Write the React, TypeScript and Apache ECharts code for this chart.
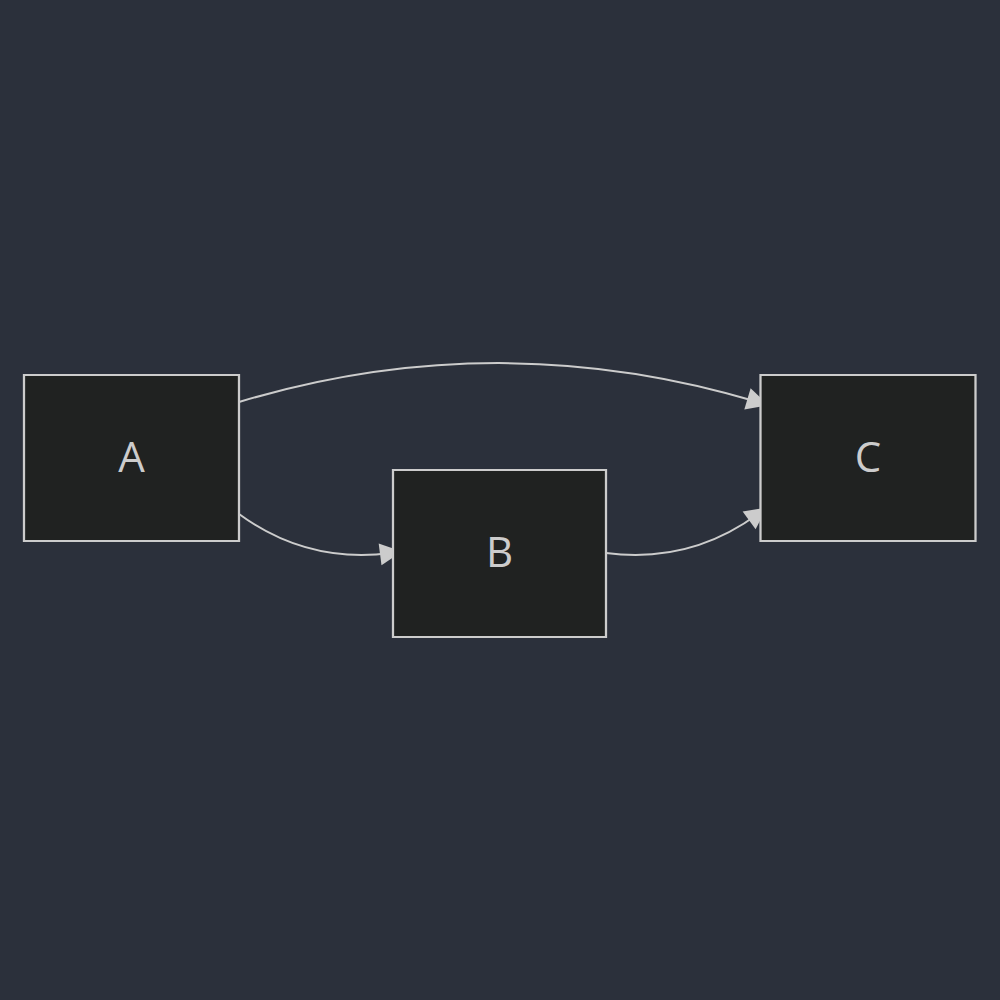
import React, { useEffect, useRef } from 'react';
import * as echarts from 'echarts';

// Diagram nodes (centre positions in diagram space, 0-1000)
const nodeNames = ['A', 'B', 'C'];
const nodeX = [131.5, 499.5, 868];
const nodeY = [458, 553.5, 458];
const nodeW = [215, 213, 215];
const nodeH = [166, 167, 166];

// Edges: start / end points and bend
const edgeStart = [[239, 402], [239, 514], [606, 553]];
const edgeEnd = [[758, 402], [391, 553], [758, 514]];
const edgeCurve = [0.15, -0.2, -0.2];

const App: React.FC = () => {
  const chartRef = useRef<HTMLDivElement>(null);

  useEffect(() => {
    document.body.style.margin = '0';
    if (!chartRef.current) return;
    const chart = echarts.init(chartRef.current, undefined, { renderer: 'svg' });

    chart.setOption({
      animation: false,
      backgroundColor: '#2b303b',
      grid: { left: 0, right: 0, top: 0, bottom: 0 },
      xAxis: { type: 'value', min: 0, max: 1000, show: false },
      yAxis: { type: 'value', min: 0, max: 1000, inverse: true, show: false },
      series: [
        {
          type: 'lines',
          coordinateSystem: 'cartesian2d',
          symbol: ['none', 'triangle'],
          symbolSize: [20, 22],
          z: 1,
          lineStyle: { color: '#cccccc', width: 2, opacity: 1 },
          data: edgeStart.map((s, i) => ({
            coords: [s, edgeEnd[i]],
            lineStyle: { curveness: edgeCurve[i] },
          })),
        },
        {
          type: 'scatter',
          z: 2,
          data: nodeNames.map((n, i) => ({
            name: n,
            value: [nodeX[i], nodeY[i]],
            symbolSize: [nodeW[i], nodeH[i]],
          })),
          symbol: 'rect',
          itemStyle: { color: '#202221', borderColor: '#cccccc', borderWidth: 2, opacity: 1 },
          label: {
            show: true,
            position: 'inside',
            formatter: '{b}',
            color: '#cccccc',
            fontSize: 42,
            fontFamily: 'Open Sans',
            offset: [0, -3],
          },
          emphasis: { disabled: true },
        },
      ],
    });

    return () => chart.dispose();
  }, []);

  return <div ref={chartRef} style={{ width: '1000px', height: '1000px' }} />;
};

export default App;
